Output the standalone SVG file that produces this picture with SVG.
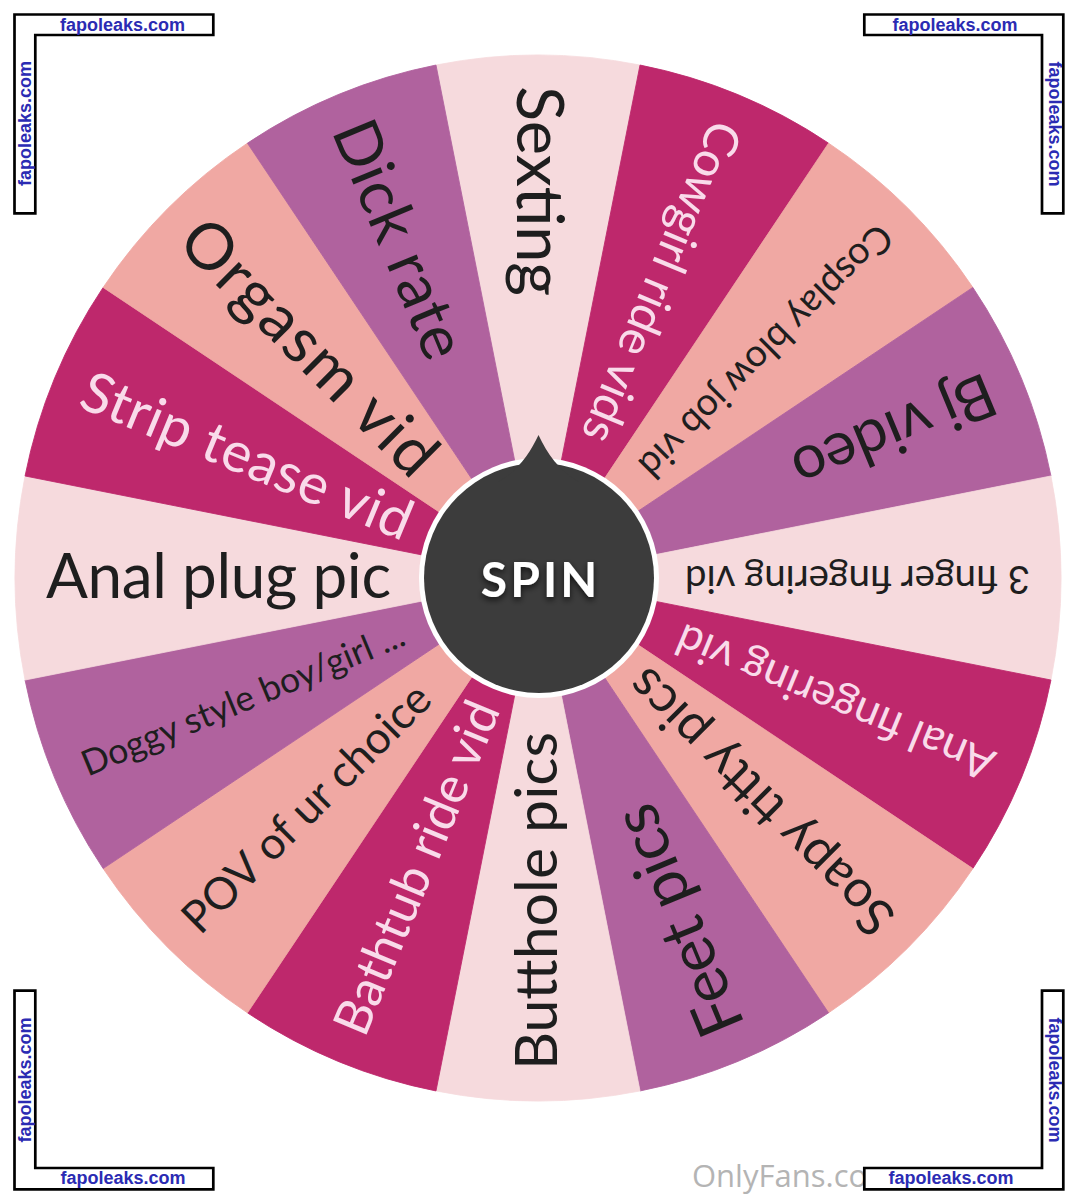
<svg xmlns="http://www.w3.org/2000/svg" xmlns:xlink="http://www.w3.org/1999/xlink" width="1078" height="1204" viewBox="0 0 1078 1204">
<style>
.lt{fill:#f6dadd;stroke:#f6dadd}
.mg{fill:#be286c;stroke:#be286c}
.sa{fill:#f0a8a3;stroke:#f0a8a3}
.mv{fill:#b0629e;stroke:#b0629e}
.sl{stroke-width:0.8;stroke-linejoin:round}
.lab{font-family:Lato,"Open Sans","Liberation Sans",sans-serif;fill:#1e1e1e}
.lab.w{fill:#f9dbea}
.wm{font-family:"Liberation Sans",Arial,sans-serif;font-weight:bold;font-size:18px;fill:#2b2bb3}
.box{fill:#fff;stroke:#000;stroke-width:2.7}
</style>
<defs>
<path id="slice" d="M0 0 L512.95 -102.03 A523 523 0 0 1 512.95 102.03 Z"/>
<filter id="sh" x="-20%" y="-40%" width="140%" height="180%">
<feDropShadow dx="0" dy="3" stdDeviation="3" flood-color="#000" flood-opacity="0.7"/>
</filter>
</defs>
<rect width="1078" height="1204" fill="#fff"/>
<g id="wheel">
<g id="s-sexting"><use xlink:href="#slice" class="lt sl" transform="translate(538 578) rotate(270)"/><text class="lab" font-size="65" x="-492" dy="0.32em" textLength="210" transform="translate(538 578) rotate(90)">Sexting</text></g>
<g id="s-cowgirl"><use xlink:href="#slice" class="mg sl" transform="translate(538 578) rotate(292.5)"/><text class="lab w" font-size="48" x="-492" dy="0.32em" textLength="343" transform="translate(538 578) rotate(112.5)">Cowgirl ride vids</text></g>
<g id="s-cosplay"><use xlink:href="#slice" class="sa sl" transform="translate(538 578) rotate(315)"/><text class="lab" font-size="38" x="-492" dy="0.32em" textLength="341" transform="translate(538 578) rotate(135)">Cosplay blow job vid</text></g>
<g id="s-bj"><use xlink:href="#slice" class="mv sl" transform="translate(538 578) rotate(337.5)"/><text class="lab" font-size="61" x="-492" dy="0.32em" textLength="214" transform="translate(538 578) rotate(157.5)">Bj video</text></g>
<g id="s-3finger"><use xlink:href="#slice" class="lt sl" transform="translate(538 578) rotate(0)"/><text class="lab" font-size="38.5" x="-492" dy="0.32em" textLength="345" transform="translate(538 578) rotate(180)">3 finger fingering vid</text></g>
<g id="s-analfinger"><use xlink:href="#slice" class="mg sl" transform="translate(538 578) rotate(22.5)"/><text class="lab w" font-size="44.5" x="-492" dy="0.32em" textLength="340" transform="translate(538 578) rotate(202.5)">Anal fingering vid</text></g>
<g id="s-soapy"><use xlink:href="#slice" class="sa sl" transform="translate(538 578) rotate(45)"/><text class="lab" font-size="52" x="-492" dy="0.32em" textLength="353" transform="translate(538 578) rotate(225)">Soapy titty pics</text></g>
<g id="s-feet"><use xlink:href="#slice" class="mv sl" transform="translate(538 578) rotate(67.5)"/><text class="lab" font-size="64" x="-492" dy="0.32em" textLength="244" transform="translate(538 578) rotate(247.5)">Feet pics</text></g>
<g id="s-butthole"><use xlink:href="#slice" class="lt sl" transform="translate(538 578) rotate(90)"/><text class="lab" font-size="59" x="-492" dy="0.32em" textLength="338" transform="translate(538 578) rotate(270)">Butthole pics</text></g>
<g id="s-bathtub"><use xlink:href="#slice" class="mg sl" transform="translate(538 578) rotate(112.5)"/><text class="lab w" font-size="50.5" x="-492" dy="0.32em" textLength="356" transform="translate(538 578) rotate(292.5)">Bathtub ride vid</text></g>
<g id="s-pov"><use xlink:href="#slice" class="sa sl" transform="translate(538 578) rotate(135)"/><text class="lab" font-size="44.5" x="-492" dy="0.32em" textLength="331" transform="translate(538 578) rotate(315)">POV of ur choice</text></g>
<g id="s-doggy"><use xlink:href="#slice" class="mv sl" transform="translate(538 578) rotate(157.5)"/><text class="lab" font-size="35.5" x="-492" dy="0.32em" textLength="346" transform="translate(538 578) rotate(337.5)">Doggy style boy/girl ...</text></g>
<g id="s-analplug"><use xlink:href="#slice" class="lt sl" transform="translate(538 578) rotate(180)"/><text class="lab" font-size="62" x="-492" dy="0.32em" textLength="345" transform="translate(538 578) rotate(0)">Anal plug pic</text></g>
<g id="s-strip"><use xlink:href="#slice" class="mg sl" transform="translate(538 578) rotate(202.5)"/><text class="lab w" font-size="56" x="-492" dy="0.32em" textLength="353" transform="translate(538 578) rotate(22.5)">Strip tease vid</text></g>
<g id="s-orgasm"><use xlink:href="#slice" class="sa sl" transform="translate(538 578) rotate(225)"/><text class="lab" font-size="64" x="-492" dy="0.32em" textLength="334" transform="translate(538 578) rotate(45)">Orgasm vid</text></g>
<g id="s-dick"><use xlink:href="#slice" class="mv sl" transform="translate(538 578) rotate(247.5)"/><text class="lab" font-size="62.5" x="-492" dy="0.32em" textLength="252" transform="translate(538 578) rotate(67.5)">Dick rate</text></g>
</g>
<g id="spin">
<circle cx="539" cy="578" r="120" fill="#fff"/>
<circle cx="539" cy="578" r="115" fill="#3c3c3c"/>
<path d="M498 482 C518 471 530 453 538.5 435 C547 453 559 471 579 482 Z" fill="#3c3c3c"/>
<text x="540.5" y="597" text-anchor="middle" font-family="Lato,'Open Sans',sans-serif" font-weight="bold" font-size="48" letter-spacing="3" fill="#fff" filter="url(#sh)">SPIN</text>
</g>
<g id="connectors"/>
<g id="watermarks">
<text x="692" y="1187" font-family="'Open Sans',sans-serif" font-size="31" fill="#b4b4b4">OnlyFans.co</text>
<polygon class="box" points="14.5,14.5 213.3,14.5 213.3,35 35.3,35 35.3,213.3 14.5,213.3"/>
<polygon class="box" points="864.3,14.5 1063.3,14.5 1063.3,213.3 1042,213.3 1042,35 864.3,35"/>
<polygon class="box" points="14.5,990.7 35.3,990.7 35.3,1168 213.3,1168 213.3,1189.3 14.5,1189.3"/>
<polygon class="box" points="1042,990.7 1063.3,990.7 1063.3,1189.3 864.3,1189.3 864.3,1168 1042,1168"/>
<text class="wm" x="122.5" y="30.5" text-anchor="middle">fapoleaks.com</text>
<text class="wm" x="0" y="0" text-anchor="middle" transform="translate(30.5 123.5) rotate(-90)">fapoleaks.com</text>
<text class="wm" x="955" y="30.5" text-anchor="middle">fapoleaks.com</text>
<text class="wm" x="0" y="0" text-anchor="middle" transform="translate(1048.5 124) rotate(90)">fapoleaks.com</text>
<text class="wm" x="123" y="1184" text-anchor="middle">fapoleaks.com</text>
<text class="wm" x="0" y="0" text-anchor="middle" transform="translate(30.5 1080) rotate(-90)">fapoleaks.com</text>
<text class="wm" x="951" y="1184" text-anchor="middle">fapoleaks.com</text>
<text class="wm" x="0" y="0" text-anchor="middle" transform="translate(1048.5 1080) rotate(90)">fapoleaks.com</text>
</g>
</svg>
